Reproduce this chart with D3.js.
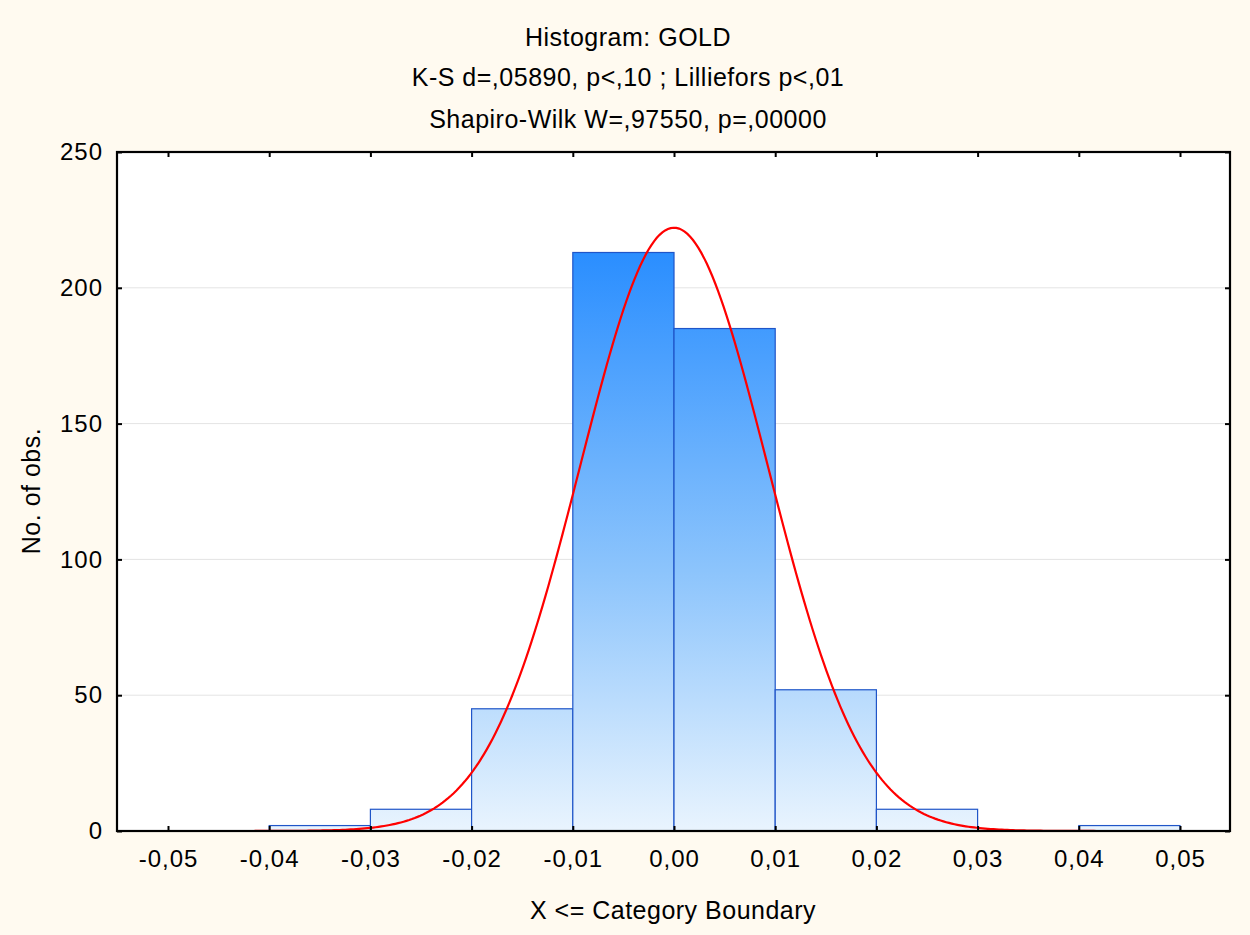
<!DOCTYPE html>
<html><head><meta charset="utf-8">
<script src="https://cdn.jsdelivr.net/npm/d3@7"></script>
<style>body{margin:0;background:#fffaf0;} svg{display:block;font-family:"Liberation Sans",Arial,sans-serif;}</style>
</head><body>
<svg id="c" width="1250" height="935"></svg>
<script>
const binStarts = [-0.05,-0.04,-0.03,-0.02,-0.01,0.00,0.01,0.02,0.03,0.04];
const binCounts = [0,2,8,45,213,185,52,8,0,2];
const binWidth = 0.01;
const xTicks = [-0.05,-0.04,-0.03,-0.02,-0.01,0,0.01,0.02,0.03,0.04,0.05];
const yTicks = [0,50,100,150,200,250];
const fitMean = 0.0;
const fitSD = 0.00925;
const titleLines = ["Histogram: GOLD","K-S d=,05890, p<,10 ; Lilliefors p<,01","Shapiro-Wilk W=,97550, p=,00000"];

const svg = d3.select("#c");
svg.append("rect").attr("width",1250).attr("height",935).attr("fill","#fffaf0");
const L=117,R=1230,T=152,B=831;
const x = d3.scaleLinear().domain([-0.05504,0.05494]).range([L,R]);
const y = d3.scaleLinear().domain([0,250]).range([B,T]);
const fmt = d => d3.format(".2f")(d).replace(".",",").replace("−","-");

svg.append("rect").attr("x",L).attr("y",T).attr("width",R-L).attr("height",B-T).attr("fill","#fff");

// grid
svg.append("g").selectAll("line").data(yTicks.filter(v=>v>0&&v<250)).join("line")
  .attr("x1",L).attr("x2",R).attr("y1",d=>y(d)).attr("y2",d=>y(d))
  .attr("stroke","#e4e4e4").attr("stroke-width",1);

const defs = svg.append("defs");
const g = defs.append("linearGradient").attr("id","bg").attr("gradientUnits","userSpaceOnUse")
  .attr("x1",0).attr("x2",0).attr("y1",y(d3.max(binCounts))).attr("y2",B);
g.append("stop").attr("offset","0%").attr("stop-color","#2a8eff");
g.append("stop").attr("offset","55%").attr("stop-color","#8cc4fc");
g.append("stop").attr("offset","100%").attr("stop-color","#e9f4fe");

const bins = binStarts.map((s,i)=>({s,c:binCounts[i]}));
svg.append("g").selectAll("rect").data(bins).join("rect")
  .attr("x",d=>x(d.s)).attr("width",d=>x(d.s+binWidth)-x(d.s))
  .attr("y",d=>y(d.c)).attr("height",d=>y(0)-y(d.c))
  .attr("fill","url(#bg)").attr("stroke","#1f55c8").attr("stroke-width",1.2);

// normal fit
const N = d3.sum(binCounts);
const pdf = v => N*binWidth/(fitSD*Math.sqrt(2*Math.PI))*Math.exp(-((v-fitMean)**2)/(2*fitSD*fitSD));
const xs = d3.range(0,401).map(i=>x.domain()[0]+(x.domain()[1]-x.domain()[0])*i/400);
svg.append("path").datum(xs)
  .attr("d",d3.line().x(v=>x(v)).y(v=>y(pdf(v))))
  .attr("fill","none").attr("stroke","#ff0000").attr("stroke-width",2.2);

// axes
const ax = svg.append("g");
ax.append("g").attr("transform",`translate(0,${B})`)
  .call(d3.axisBottom(x).tickValues(xTicks).tickSize(-5).tickPadding(19).tickFormat(fmt));
ax.append("g").attr("transform",`translate(0,${T})`)
  .call(d3.axisTop(x).tickValues(xTicks).tickSize(-5).tickFormat(""));
ax.append("g").attr("transform",`translate(${L},0)`)
  .call(d3.axisLeft(y).tickValues(yTicks).tickSize(-5).tickPadding(14).tickFormat(d3.format("d")));
ax.append("g").attr("transform",`translate(${R},0)`)
  .call(d3.axisRight(y).tickValues(yTicks).tickSize(-5).tickFormat(""));
ax.selectAll(".domain").remove();
ax.selectAll(".tick line").attr("stroke","#000").attr("stroke-width",2);
ax.selectAll(".tick text").attr("font-size",24).attr("letter-spacing","1px").attr("fill","#000")
  .attr("font-family","Liberation Sans, Arial, sans-serif");
svg.append("rect").attr("x",L).attr("y",T).attr("width",R-L).attr("height",B-T)
  .attr("fill","none").attr("stroke","#000").attr("stroke-width",2.2);

// titles
svg.selectAll(".tl").data(titleLines).join("text")
  .attr("x",628).attr("y",(d,i)=>[46,86,128][i]).attr("text-anchor","middle")
  .attr("font-size",25).attr("letter-spacing","0.5px").attr("fill","#000").text(d=>d);
svg.append("text").attr("x",673).attr("y",919).attr("text-anchor","middle")
  .attr("font-size",25).attr("letter-spacing","0.5px").text("X <= Category Boundary");
svg.append("text").attr("transform","translate(40,491) rotate(-90)").attr("text-anchor","middle")
  .attr("font-size",25).attr("letter-spacing","0.5px").text("No. of obs.");
</script>
</body></html>
